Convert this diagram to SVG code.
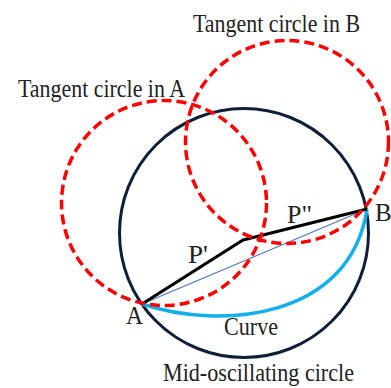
<svg xmlns="http://www.w3.org/2000/svg" width="391" height="388" viewBox="0 0 391 388">
<style>
.lbl{font-family:"Liberation Serif","Times New Roman",serif;fill:#222;font-size:25px}
.tan{fill:none;stroke:#ff0000;stroke-width:3.5;stroke-dasharray:10 5}
</style>
<rect width="391" height="388" fill="#fff"/>
<g id="mid-circle">
<circle cx="244" cy="233" r="124.5" fill="none" stroke="#0f1f38" stroke-width="3"/>
</g>
<g id="connectors">
<line x1="142" y1="304" x2="367" y2="209" stroke="#4a78c0" stroke-width="1.2"/>
<path d="M142,304 C220,330 350,320 367,209" fill="none" stroke="#10b0ec" stroke-width="3.5"/>
<polyline points="142,304 243,240 367,209" fill="none" stroke="#000" stroke-width="3.2" stroke-linejoin="round"/>
</g>
<g id="tangent-A">
<circle class="tan" cx="164" cy="203" r="102.5"/>
</g>
<g id="tangent-B">
<circle class="tan" cx="287" cy="142" r="101.5"/>
</g>
<g id="labels">
<text class="lbl" x="193" y="32" textLength="167" lengthAdjust="spacingAndGlyphs">Tangent circle in B</text>
<text class="lbl" x="18" y="97" textLength="167" lengthAdjust="spacingAndGlyphs">Tangent circle in A</text>
<text class="lbl" x="163" y="381" textLength="191" lengthAdjust="spacingAndGlyphs">Mid-oscillating circle</text>
<text class="lbl" x="224" y="335" textLength="54" lengthAdjust="spacingAndGlyphs">Curve</text>
<text class="lbl" x="126" y="324" textLength="17" lengthAdjust="spacingAndGlyphs">A</text>
<text class="lbl" x="375" y="221">B</text>
<text class="lbl" x="188" y="263" textLength="20" lengthAdjust="spacingAndGlyphs">P'</text>
<text class="lbl" x="287" y="223" textLength="25" lengthAdjust="spacingAndGlyphs">P"</text>
</g>
</svg>
